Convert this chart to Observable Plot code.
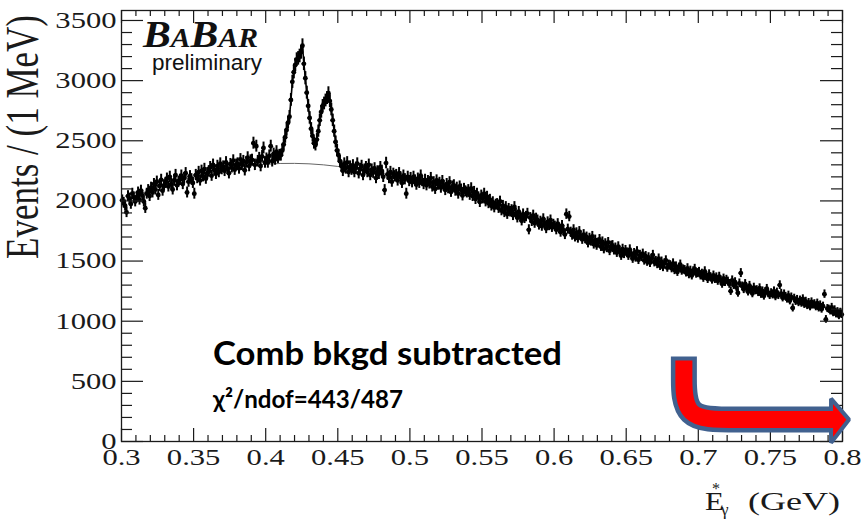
<!DOCTYPE html>
<html><head><meta charset="utf-8">
<script src="https://cdn.jsdelivr.net/npm/d3@7"></script>
<script src="https://cdn.jsdelivr.net/npm/@observablehq/plot@0.6"></script>
<style>body{margin:0;background:#fff}</style>
</head><body><div id="chart"></div>
<script>
// Events per 1 MeV bin, E*γ from 0.300 to 0.800 GeV (500 bins)
const counts = [
2005,1985,1960,1905,2040,2020,1975,2060,2030,1995,
2030,2070,2010,2085,2045,1995,1940,2060,2090,2040,
2110,2070,2140,2095,2160,2050,2125,2175,2085,2130,
2150,2185,2120,2200,2140,2095,2170,2215,2130,2160,
2175,2210,2140,2190,2230,2070,2160,2205,2180,2150,
2060,2215,2190,2240,2170,2250,2205,2265,2185,2230,
2245,2280,2210,2300,2255,2225,2290,2240,2310,2265,
2285,2250,2320,2270,2230,2305,2280,2335,2260,2300,
2310,2270,2345,2300,2330,2255,2320,2360,2290,2335,
2340,2480,2300,2455,2330,2355,2290,2370,2440,2320,
2350,2320,2375,2455,2330,2390,2345,2410,2360,2380,
2380,2420,2470,2530,2590,2650,2700,2840,2990,3070,
3130,3175,3185,3205,3235,3290,3140,3020,2900,2790,
2690,2600,2540,2480,2465,2510,2580,2670,2740,2790,
2810,2835,2855,2895,2830,2760,2670,2580,2490,2420,
2380,2330,2290,2250,2310,2270,2320,2240,2285,2260,
2295,2240,2275,2310,2230,2265,2290,2215,2260,2280,
2240,2300,2215,2260,2235,2270,2190,2245,2225,2280,
2250,2200,2090,2315,2220,2190,2240,2160,2225,2205,
2215,2170,2230,2195,2150,2210,2180,2060,2200,2165,
2190,2155,2200,2170,2135,2185,2150,2210,2165,2140,
2175,2130,2165,2145,2190,2120,2155,2100,2170,2135,
2150,2110,2165,2125,2090,2140,2105,2155,2075,2120,
2130,2085,2110,2060,2120,2095,2045,2100,2080,2070,
2090,2050,2105,2040,2075,2015,2060,2030,1990,2045,
2020,2060,1995,2035,1980,2010,1960,1990,1945,1970,
1975,1940,1995,1920,1960,1905,1950,1890,1935,1910,
1925,1880,1950,1895,1860,1910,1870,1835,1890,1855,
1870,1895,1760,1860,1830,1880,1815,1855,1840,1800,
1830,1790,1850,1810,1770,1825,1795,1840,1780,1805,
1790,1760,1810,1775,1740,1795,1755,1720,1890,1765,
1870,1740,1715,1760,1700,1735,1690,1745,1710,1680,
1720,1685,1700,1650,1690,1665,1705,1640,1675,1630,
1650,1680,1620,1660,1600,1645,1610,1655,1585,1625,
1630,1590,1610,1570,1620,1585,1545,1600,1560,1590,
1570,1545,1595,1555,1520,1565,1530,1580,1510,1550,
1535,1560,1505,1540,1495,1530,1485,1520,1550,1490,
1500,1475,1520,1460,1495,1450,1480,1505,1445,1470,
1465,1440,1480,1425,1455,1410,1445,1470,1420,1430,
1425,1405,1440,1390,1420,1380,1415,1435,1395,1400,
1410,1380,1395,1360,1415,1375,1350,1390,1365,1345,
1380,1350,1365,1335,1370,1340,1310,1355,1325,1345,
1330,1310,1250,1340,1300,1325,1280,1235,1315,1400,
1290,1265,1310,1275,1245,1295,1260,1230,1280,1255,
1260,1240,1275,1225,1250,1210,1245,1270,1230,1215,
1235,1220,1250,1205,1240,1215,1300,1230,1195,1225,
1205,1185,1215,1170,1200,1110,1190,1165,1180,1155,
1175,1150,1185,1140,1165,1130,1155,1120,1160,1135,
1145,1120,1150,1110,1135,1100,1125,1225,1015,1105,
1100,1085,1115,1070,1095,1060,1080,1045,1075,1055
];
const binStart = 0.3, binWidth = 0.001;

// background component of the fit (thin grey curve)
const fitE   = [0.30,0.32,0.34,0.36,0.38,0.40,0.42,0.44,0.46,0.48,0.50,0.52,0.54,0.56,0.58,0.60,0.62,0.64,0.66,0.68,0.70,0.72,0.74,0.76,0.78,0.80];
const fitBkg = [2000,2090,2165,2230,2275,2305,2312,2300,2270,2230,2180,2135,2075,1985,1880,1800,1710,1615,1540,1470,1405,1340,1255,1200,1140,1070];

// axis ticks
const xMajor = [0.3,0.35,0.4,0.45,0.5,0.55,0.6,0.65,0.7,0.75,0.8];
const xMinor = [0.31,0.32,0.33,0.34,0.36,0.37,0.38,0.39,0.41,0.42,0.43,0.44,0.46,0.47,0.48,0.49,0.51,0.52,0.53,0.54,0.56,0.57,0.58,0.59,0.61,0.62,0.63,0.64,0.66,0.67,0.68,0.69,0.71,0.72,0.73,0.74,0.76,0.77,0.78,0.79];
const yMajor = [0,500,1000,1500,2000,2500,3000,3500];
const yMinor = [100,200,300,400,600,700,800,900,1100,1200,1300,1400,1600,1700,1800,1900,2100,2200,2300,2400,2600,2700,2800,2900,3100,3200,3300,3400];

// annotation arrow (data units)
const arrowOutX = [0.690,0.690,0.690,0.722,0.7924];
const arrowOutY = [706,560,182,182,182];
const arrowInX  = [0.690,0.690,0.690,0.722,0.7945];
const arrowInY  = [674,560,182,182,182];
const headX  = [0.7924,0.8049];
const headLo = [-15,178];
const headHi = [352,178];

const bins = counts.map((n, i) => ({E: binStart + (i + 0.5) * binWidth, n}));
const peakFit = bins.filter(d => d.E > 0.405 && d.E < 0.455);

const W = 861, H = 519, mL = 121, mR = 19, mT = 10, mB = 78;
const pw = W - mL - mR, ph = H - mT - mB;
const ink = "#1a1a1a";

const chart = Plot.plot({
  width: W, height: H,
  marginLeft: mL, marginRight: mR, marginTop: mT, marginBottom: mB,
  x: {domain: [0.3, 0.8]},
  y: {domain: [0, 3583]},
  style: {background: "white", fontFamily: "'Liberation Serif', serif", fontSize: "23px", color: ink},
  marks: [
    Plot.line(fitE.map((e, i) => [e, fitBkg[i]]), {x: d => d[0], y: d => d[1], curve: "natural", stroke: "#666", strokeWidth: 1}),
    Plot.ruleX(bins, {x: "E", y1: d => d.n - Math.sqrt(d.n), y2: d => d.n + Math.sqrt(d.n), stroke: "black", strokeWidth: 2}),
    Plot.ruleY(bins, {y: "n", x1: d => d.E - 0.0013, x2: d => d.E + 0.0013, stroke: "black", strokeWidth: 1.8}),
    Plot.dot(bins, {x: "E", y: "n", r: 2.4, fill: "black", stroke: "none"}),
    Plot.line(peakFit, {x: "E", y: "n", stroke: "black", strokeWidth: 1.6}),
    // frame ticks (ROOT style, pointing inward on all four sides)
    Plot.ruleX(xMajor, {x: d => d, insetTop: ph - 13, stroke: ink, strokeWidth: 1.2}),
    Plot.ruleX(xMinor, {x: d => d, insetTop: ph - 6, stroke: ink, strokeWidth: 1.2}),
    Plot.ruleX(xMajor, {x: d => d, insetBottom: ph - 13, stroke: ink, strokeWidth: 1.2}),
    Plot.ruleX(xMinor, {x: d => d, insetBottom: ph - 6, stroke: ink, strokeWidth: 1.2}),
    Plot.ruleY(yMajor, {y: d => d, insetRight: pw - 22, stroke: ink, strokeWidth: 1.2}),
    Plot.ruleY(yMinor, {y: d => d, insetRight: pw - 11, stroke: ink, strokeWidth: 1.2}),
    Plot.ruleY(yMajor, {y: d => d, insetLeft: pw - 22, stroke: ink, strokeWidth: 1.2}),
    Plot.ruleY(yMinor, {y: d => d, insetLeft: pw - 11, stroke: ink, strokeWidth: 1.2}),
    Plot.frame({stroke: ink, strokeWidth: 1.3}),
    Plot.axisX({ticks: xMajor, tickSize: 0, tickPadding: 7, label: null, tickFormat: d => String(d)}),
    Plot.axisY({ticks: yMajor, tickSize: 0, tickPadding: 5, label: null, tickFormat: d => String(d)}),
    // arrow
    Plot.line(arrowOutX.map((x, i) => [x, arrowOutY[i]]), {x: d => d[0], y: d => d[1], curve: "basis", stroke: "#41618f", strokeWidth: 26, strokeLinecap: "butt", strokeLinejoin: "miter"}),
    Plot.areaY([0, 1], {x: i => headX[i], y1: i => headLo[i], y2: i => headHi[i], fill: "#ff0000", stroke: "#41618f", strokeWidth: 4, strokeLinejoin: "miter"}),
    Plot.line(arrowInX.map((x, i) => [x, arrowInY[i]]), {x: d => d[0], y: d => d[1], curve: "basis", stroke: "#ff0000", strokeWidth: 17, strokeLinecap: "butt", strokeLinejoin: "miter"})
  ]
});
document.getElementById("chart").append(chart);

const svg = d3.select(chart);
// stretch tick labels horizontally like the reference
svg.selectAll('g[aria-label="x-axis tick label"] text, g[aria-label="y-axis tick label"] text').each(function() {
  const len = this.getComputedTextLength();
  this.setAttribute("textLength", len * 1.33);
  this.setAttribute("lengthAdjust", "spacingAndGlyphs");
});

// y-axis title
svg.append("g").attr("transform", "translate(38,137) scale(1.3,1) rotate(-90)")
  .append("text").attr("text-anchor", "middle").attr("font-family", "'Liberation Serif', serif")
  .attr("font-size", 35).attr("fill", ink).text("Events / (1 MeV)");

// x-axis title
const xl = svg.append("g").attr("font-family", "'Liberation Serif', serif").attr("fill", ink).attr("text-anchor", "start");
xl.append("text").attr("x", 705).attr("y", 510).attr("font-size", 25).attr("textLength", 19).attr("lengthAdjust", "spacingAndGlyphs").text("E");
xl.append("text").attr("x", 712).attr("y", 494).attr("font-size", 16).text("*");
xl.append("text").attr("x", 721).attr("y", 515).attr("font-size", 17).text("γ");
xl.append("text").attr("x", 840).attr("y", 510).attr("text-anchor", "end").attr("font-size", 25).attr("textLength", 92).attr("lengthAdjust", "spacingAndGlyphs").text("(GeV)");

// BABAR logo
const logo = svg.append("text").attr("x", 143).attr("y", 46.5).attr("text-anchor", "start")
  .attr("font-family", "'Liberation Serif', serif").attr("font-style", "italic").attr("font-weight", "bold")
  .attr("fill", "#111").attr("textLength", 115).attr("lengthAdjust", "spacingAndGlyphs");
[["B", 38], ["A", 27], ["B", 38], ["A", 27], ["R", 27]].forEach(([t, s]) => logo.append("tspan").attr("font-size", s).text(t));
svg.append("text").attr("x", 152).attr("y", 70).attr("text-anchor", "start").attr("font-family", "'Liberation Sans', Arial, sans-serif")
  .attr("font-size", 22).attr("fill", "#111").attr("textLength", 110).attr("lengthAdjust", "spacingAndGlyphs").text("preliminary");

// annotations
svg.append("text").attr("x", 213).attr("y", 365).attr("text-anchor", "start").attr("font-family", "Lato, 'Open Sans', sans-serif")
  .attr("font-weight", "bold").attr("font-size", 32).attr("fill", "#000")
  .attr("textLength", 349).attr("lengthAdjust", "spacingAndGlyphs").text("Comb bkgd subtracted");
svg.append("text").attr("x", 213).attr("y", 408).attr("text-anchor", "start").attr("font-family", "Lato, 'Open Sans', sans-serif")
  .attr("font-weight", "bold").attr("font-size", 25).attr("fill", "#000")
  .attr("textLength", 190).attr("lengthAdjust", "spacingAndGlyphs").text("χ²/ndof=443/487");
</script>
</body></html>
